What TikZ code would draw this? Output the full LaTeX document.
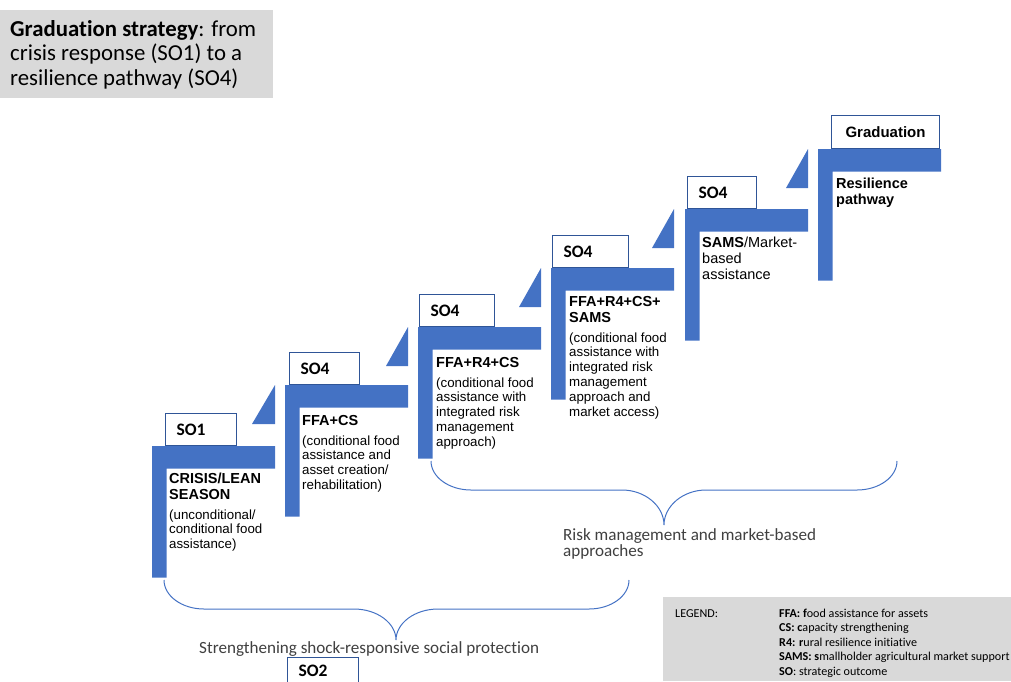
\documentclass[tikz,border=0pt]{standalone}
\usepackage{fontspec}
\setmainfont{Liberation Sans}
\newfontfamily\calib[Ligatures=NoCommon]{Carlito}
\usepackage{tikz}
\definecolor{stepblue}{HTML}{4472C4}
\definecolor{boxline}{HTML}{2F5597}
\definecolor{panelgray}{HTML}{D9D9D9}
\definecolor{notegray}{HTML}{404040}
\newcommand{\rowsof}[1]{\begin{tabular}[t]{@{}l@{}}#1\end{tabular}}

\begin{document}
\begin{tikzpicture}[x=1pt,y=-1pt]
  \tikzstyle{stair}=[fill=stepblue]
  \tikzstyle{sobox}=[draw=boxline,fill=white,line width=1.1pt,anchor=south west,inner xsep=11pt,inner ysep=0pt,minimum height=32pt,align=left,font=\calib\bfseries\fontsize{17.5}{20}\selectfont]
  \tikzstyle{head}=[anchor=base west,inner sep=0pt,font=\bfseries\fontsize{14.5}{16}\selectfont]
  \tikzstyle{desc}=[anchor=base west,inner sep=0pt,font=\fontsize{13.3}{14.8}\selectfont]
  \tikzstyle{brace}=[draw=stepblue,line width=1pt]
  \tikzstyle{note}=[anchor=base west,inner sep=0pt,text=notegray,font=\calib\fontsize{17.1}{16.5}\selectfont]

  \useasboundingbox (0,0) rectangle (1011,681);
  \clip (0,0) rectangle (1011,681);

  % title and legend panels
  \fill[panelgray] (0,10) rectangle (273,98);
  \node[anchor=base west,inner sep=0pt,font=\calib\fontsize{22.8}{24.5}\selectfont] (title) at (10,36)
    {\rowsof{\textbf{Graduation strategy}: from\\crisis response (SO1) to a\\resilience pathway (SO4)}};
  \fill[panelgray] (663,597) rectangle (1011,681);
  \node[anchor=base west,inner sep=0pt,font=\calib\fontsize{12.1}{14.5}\selectfont] (legend) at (675,617) {LEGEND:};
  \node[anchor=base west,inner sep=0pt,font=\calib\fontsize{12.1}{14.5}\selectfont] (abbrev) at (779,617)
    {\rowsof{\textbf{FFA: f}ood assistance for assets\\\textbf{CS: c}apacity strengthening\\\textbf{R4: r}ural resilience initiative\\\textbf{SAMS: s}mallholder agricultural market support\\\textbf{SO}: strategic outcome}};

  % the stairs
  \fill[stair] (152,446) -- (275,446) -- (275,468.5) -- (166.5,468.5) -- (166.5,577.5) -- (152,577.5) -- cycle;
  \fill[stair] (285,385) -- (408,385) -- (408,407.5) -- (299.5,407.5) -- (299.5,516.5) -- (285,516.5) -- cycle;
  \fill[stair] (418,327) -- (541,327) -- (541,349.5) -- (432.5,349.5) -- (432.5,458.5) -- (418,458.5) -- cycle;
  \fill[stair] (551,268) -- (674,268) -- (674,290.5) -- (565.5,290.5) -- (565.5,399.5) -- (551,399.5) -- cycle;
  \fill[stair] (685,209) -- (808,209) -- (808,231.5) -- (699.5,231.5) -- (699.5,340.5) -- (685,340.5) -- cycle;
  \fill[stair] (818,149) -- (941,149) -- (941,171.5) -- (832.5,171.5) -- (832.5,280.5) -- (818,280.5) -- cycle;

  \fill[stair] (275,385) -- (275,424) -- (252,424) -- cycle;
  \fill[stair] (408,327) -- (408,366) -- (386,366) -- cycle;
  \fill[stair] (541,268) -- (541,307) -- (519,307) -- cycle;
  \fill[stair] (674,209) -- (674,248) -- (652,248) -- cycle;
  \fill[stair] (808,149) -- (808,188) -- (786,188) -- cycle;

  % outcome boxes
  \node[sobox,text width=49pt] (so1) at (165,446) {SO1};
  \node[sobox,text width=48pt] (so4a) at (289,385) {SO4};
  \node[sobox,text width=53pt] (so4b) at (419,327) {SO4};
  \node[sobox,text width=54pt] (so4c) at (552,268) {SO4};
  \node[sobox,text width=47pt] (so4d) at (687,209) {SO4};
  \node[draw=boxline,fill=white,line width=1.1pt,anchor=south west,inner sep=0pt,minimum width=108pt,minimum height=33pt,font=\bfseries\fontsize{15}{18}\selectfont] (grad) at (831,149) {Graduation};
  \node[sobox,text width=49pt,anchor=north west,minimum height=27pt] (so2) at (287,657) {SO2};

  % step texts
  \node[head] (crisis) at (169,483) {\rowsof{CRISIS/LEAN\\SEASON}};
  \node[desc] (crisisd) at (169,519) {\rowsof{(unconditional/\\conditional food\\assistance)}};
  \node[head] (ffacs) at (302,425) {FFA+CS};
  \node[desc] (ffacsd) at (302,445) {\rowsof{(conditional food\\assistance and\\asset creation/\\rehabilitation)}};
  \node[head] (ffar) at (436,367) {FFA+R4+CS};
  \node[desc] (ffard) at (436,387) {\rowsof{(conditional food\\assistance with\\integrated risk\\management\\approach)}};
  \node[head] (ffas) at (569,306) {\rowsof{FFA+R4+CS+\\SAMS}};
  \node[desc] (ffasd) at (569,342) {\rowsof{(conditional food\\assistance with\\integrated risk\\management\\approach and\\market access)}};
  \node[head,font=\fontsize{14.5}{16}\selectfont] (sams) at (702,247) {\rowsof{\textbf{SAMS}/Market-\\based\\assistance}};
  \node[head] (resil) at (836,188) {\rowsof{Resilience\\pathway}};

  % braces
  \coordinate (sp-l) at (164,580);
  \coordinate (sp-tip) at (396,640);
  \coordinate (sp-r) at (629,580);
  \draw[brace] (sp-l) .. controls (164,596) and (182,609) .. (204,609) -- (354,609)
    .. controls (377,609) and (396,623) .. (sp-tip) .. controls (396,623) and (415,609) .. (438,609)
    -- (589,609) .. controls (611,609) and (629,596) .. (sp-r);
  \coordinate (rm-l) at (431,461);
  \coordinate (rm-tip) at (664,525);
  \coordinate (rm-r) at (897,461);
  \draw[brace] (rm-l) .. controls (431,477) and (449,490) .. (471,490) -- (622,490)
    .. controls (645,490) and (664,506) .. (rm-tip) .. controls (664,506) and (683,490) .. (706,490)
    -- (857,490) .. controls (879,490) and (897,477) .. (rm-r);

  \node[note] (shock) at (199,653) {Strengthening shock-responsive social protection};
  \node[note] (risk) at (563,540) {\rowsof{Risk management and market-based\\approaches}};
\end{tikzpicture}
\end{document}
